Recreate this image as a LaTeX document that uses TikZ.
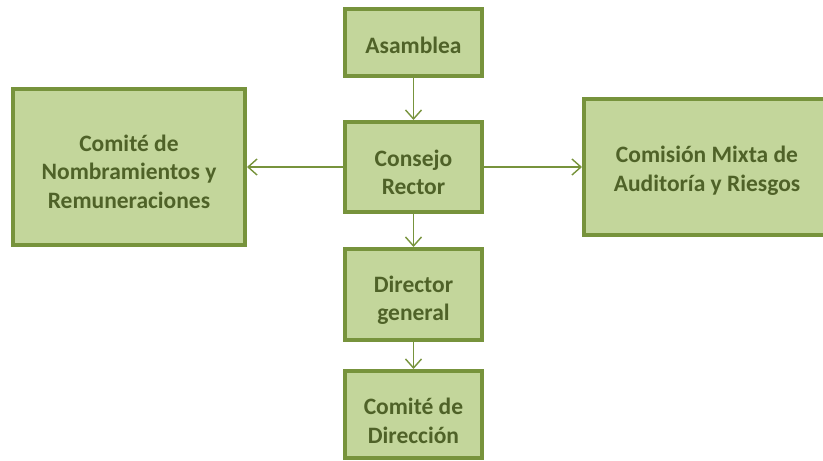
\documentclass[tikz,border=0pt]{standalone}
\usepackage{fontspec}
\setmainfont{Carlito}
\usetikzlibrary{arrows.meta}
\definecolor{boxfill}{HTML}{C3D69B}
\definecolor{boxline}{HTML}{77933C}
\definecolor{boxtext}{HTML}{4F6228}
\tikzset{
  orgbox/.style={draw=boxline, line width=4pt, fill=boxfill, rectangle, inner sep=0pt},
  boxlabel/.style={align=center, text=boxtext, inner sep=0pt,
    font=\fontsize{23.5}{28.5}\selectfont\bfseries},
  link/.style={draw=boxline, line width=1.4pt,
    -{Straight Barb[length=9pt,width=16pt,line width=1.4pt]}}
}
\begin{document}
\begin{tikzpicture}[x=1pt,y=-1pt]
\useasboundingbox (0,0) rectangle (823,461);
\node[orgbox, minimum width=137pt, minimum height=67pt,
  label={[boxlabel, yshift=-2.5pt]center:Asamblea}] (asam) at (413.5,42.5) {};
\node[orgbox, minimum width=137pt, minimum height=90pt,
  label={[boxlabel, yshift=-5.5pt]center:Consejo\\Rector}] (cons) at (413.5,167) {};
\node[orgbox, minimum width=137pt, minimum height=91pt,
  label={[boxlabel, yshift=-5.5pt]center:Director\\general}] (dir) at (413.5,294.5) {};
\node[orgbox, minimum width=137pt, minimum height=87pt,
  label={[boxlabel, yshift=-6.5pt]center:Comité de\\Dirección}] (cdir) at (413.5,414.5) {};
\node[orgbox, minimum width=232pt, minimum height=156pt,
  label={[boxlabel, yshift=-4.5pt]center:Comité de\\Nombramientos y\\Remuneraciones}] (cnr) at (129,167) {};
\node[orgbox, minimum width=246pt, minimum height=136pt,
  label={[boxlabel, yshift=-3.5pt]center:Comisión Mixta de\\Auditoría y Riesgos}] (cmar) at (707,167) {};
\draw[link] (asam.south) -- (cons.north);
\draw[link] (cons.west) -- (cnr.east);
\draw[link] (cons.east) -- (cmar.west);
\draw[link] (cons.south) -- (dir.north);
\draw[link] (dir.south) -- (cdir.north);
\end{tikzpicture}
\end{document}
